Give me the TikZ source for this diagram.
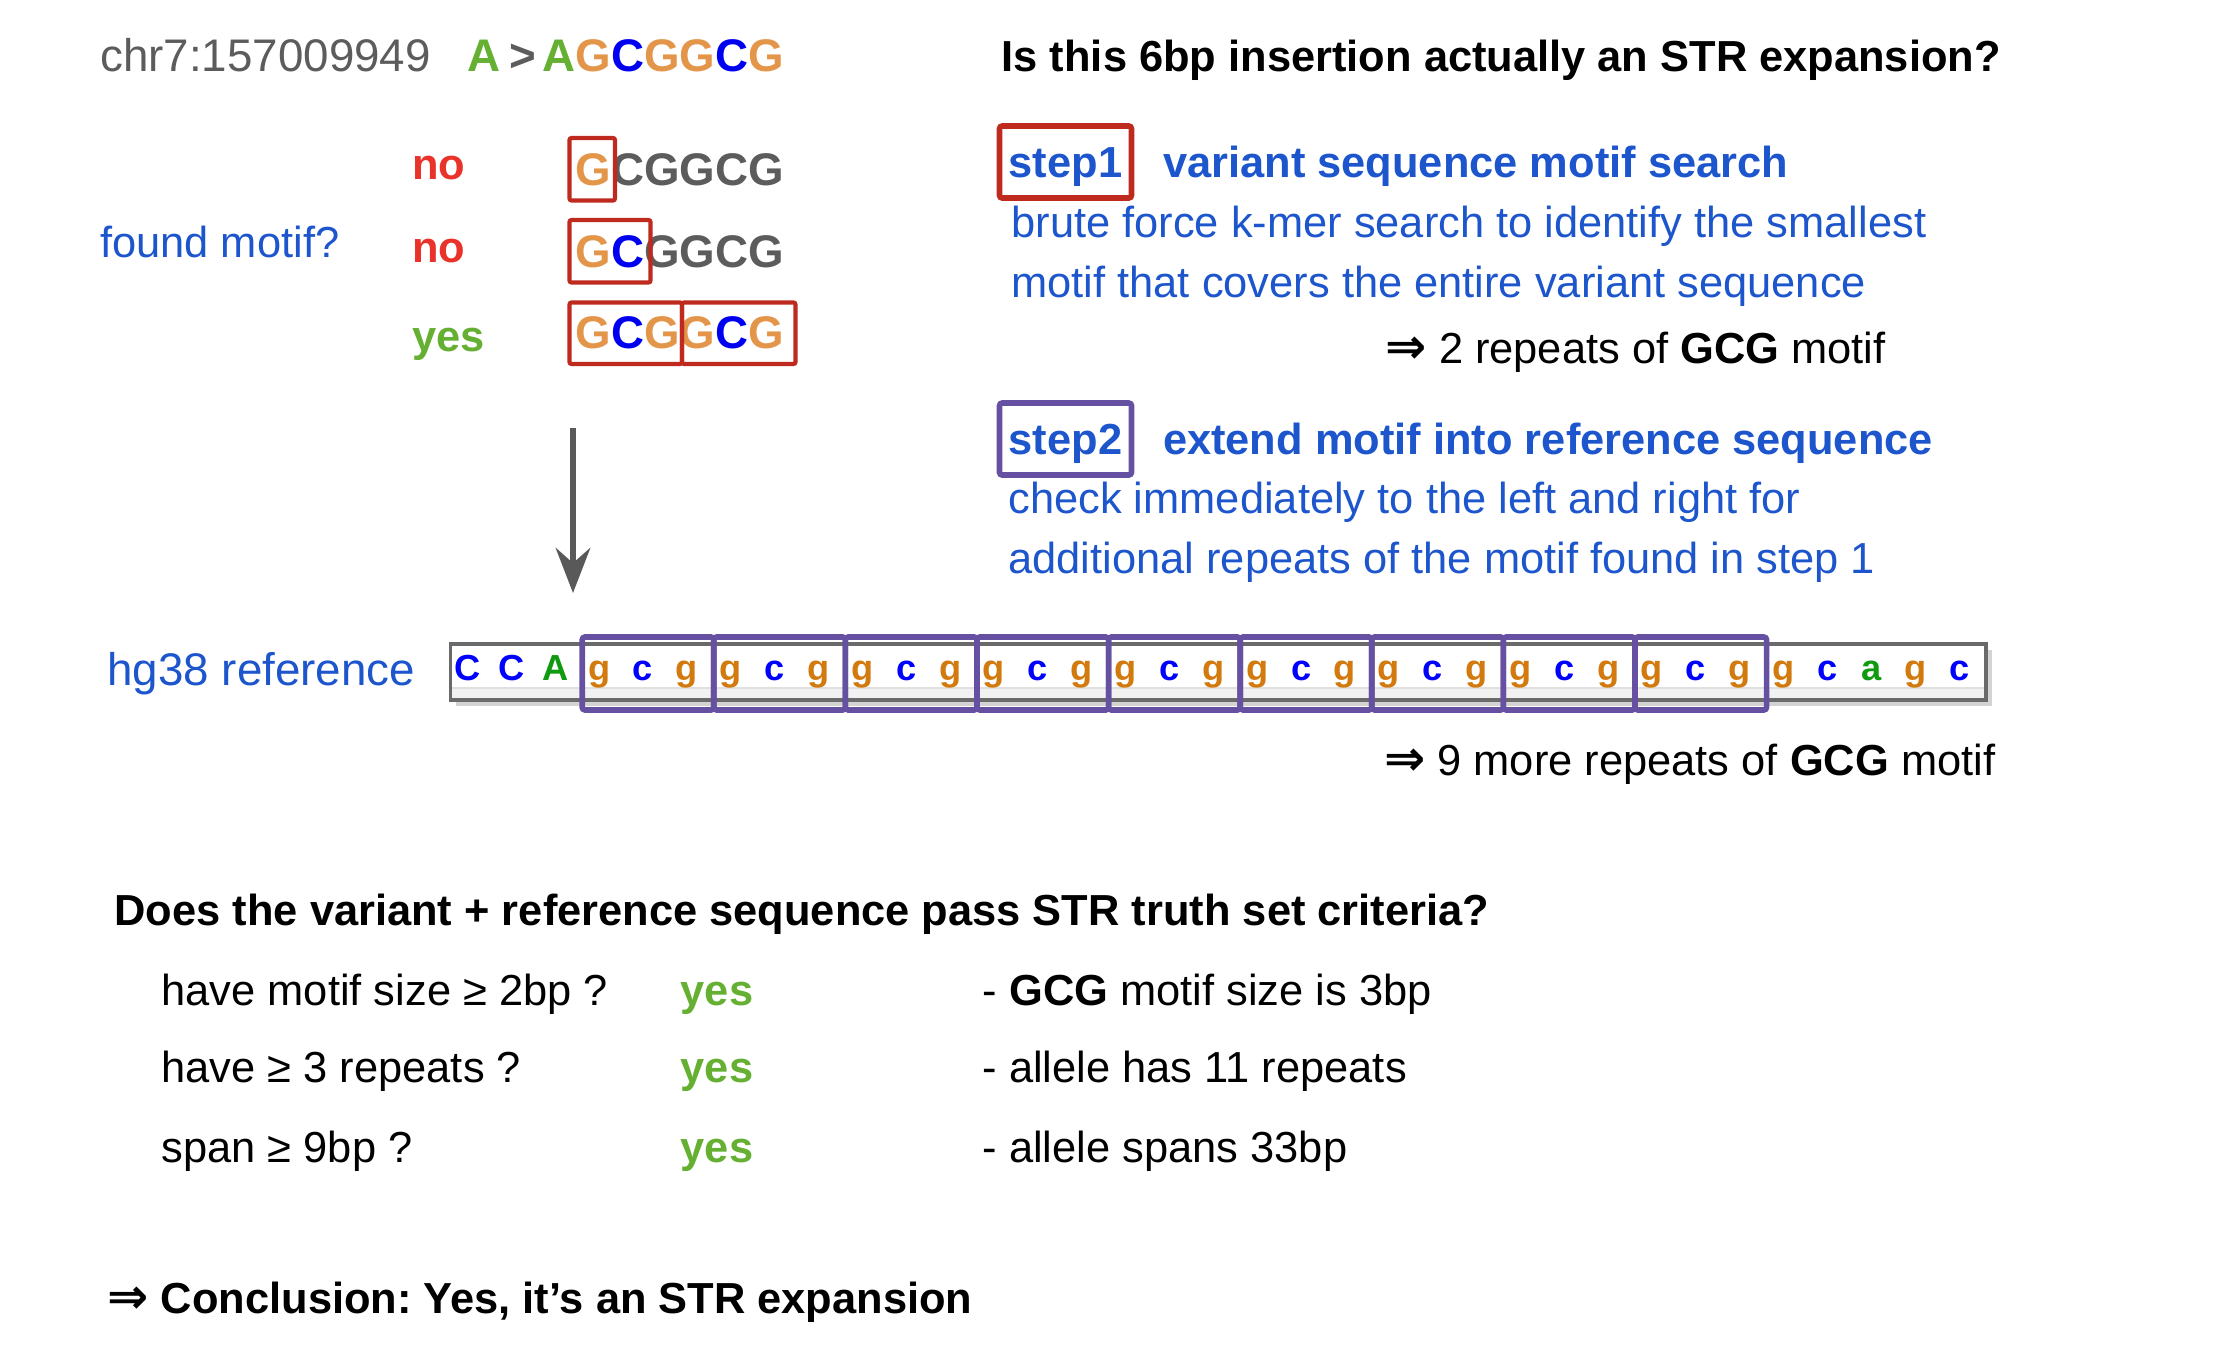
\documentclass[tikz,border=0pt]{standalone}
\usepackage{fontspec}
\setmainfont{Liberation Sans}
\newfontfamily\symfont{DejaVu Sans}
\usepackage{xcolor}
\definecolor{Ink}{HTML}{000000}
\definecolor{NoteBlue}{HTML}{1C55CC}
\definecolor{NoRed}{HTML}{E8322A}
\definecolor{YesGreen}{HTML}{65B032}
\definecolor{SeqOrange}{HTML}{E3964A}
\definecolor{SeqBlue}{HTML}{0000F0}
\definecolor{SeqGray}{HTML}{5C5C5C}
\definecolor{BoxRed}{HTML}{BF2A1F}
\definecolor{RepPurple}{HTML}{6550A2}
\definecolor{RefG}{HTML}{D27A0E}
\definecolor{RefC}{HTML}{0000FF}
\definecolor{RefA}{HTML}{109A10}
\definecolor{RefFrame}{HTML}{6A6A6A}
\definecolor{RefBand}{HTML}{F1F1F1}
\definecolor{ArrowGray}{HTML}{595959}
\usepackage{tikz}
\usetikzlibrary{arrows.meta,positioning,shadows}
\newcommand{\seqG}{\textcolor{SeqOrange}{G}}
\newcommand{\seqC}{\textcolor{SeqBlue}{C}}
\newcommand{\resarrow}{{\fontsize{14}{16}\selectfont\symfont\bfseries ⇒}}
\tikzset{
  txt/.style={anchor=base west,inner sep=0pt,text=Ink,font=\fontsize{12.35}{15}\selectfont},
  boldtxt/.style={txt,font=\fontsize{12.35}{15}\selectfont\bfseries},
  note/.style={txt,text=NoteBlue},
  notehead/.style={boldtxt,text=NoteBlue},
  big/.style={txt,font=\fontsize{13}{16}\selectfont},
  bigbold/.style={txt,font=\fontsize{13}{16}\selectfont\bfseries},
  stepbox/.style={draw,line width=1.6pt,rounded corners=0.8pt,minimum width=1.32cm,
    minimum height=0.72cm,inner sep=0pt,text height=8.6pt,text depth=0pt,text=NoteBlue,
    font=\fontsize{12.35}{15}\selectfont\bfseries},
  motifbox/.style={draw=BoxRed,line width=1.2pt,rounded corners=0.6pt},
  repbox/.style={draw=RepPurple,line width=1.6pt,rounded corners=0.8pt},
  refbase/.style={anchor=base,inner sep=0pt,font=\fontsize{10.3}{12}\selectfont\bfseries},
  arrow/.style={-{Stealth[length=12.8pt,width=9.8pt,inset=4.3pt]},line width=1.8pt,draw=ArrowGray}
}
\begin{document}
\frenchspacing
\begin{tikzpicture}[x=0.01cm,y=-0.01cm]
\useasboundingbox (0,0) rectangle (2232,1372);
% variant
\node[big,text=SeqGray] (locus) at (99.6,71) {chr7:157009949};
\node[bigbold,text=YesGreen] (refA) at (467,71) {A};
\node[bigbold,text=SeqGray] (gt) at (509,71) {>};
\node[bigbold] (alt) at (542,71) {\textcolor{YesGreen}{A}\seqG\seqC\seqG\seqG\seqC\seqG};
\node[boldtxt] (title) at (1001,71) {Is this 6bp insertion actually an STR expansion?};
% motif search on the inserted bases
\node[note] (found) at (99.6,257) {found motif?};
\node[boldtxt,text=NoRed] (no1) at (411.4,179) {no};
\node[boldtxt,text=NoRed] (no2) at (411.4,262) {no};
\node[boldtxt,text=YesGreen] (yes0) at (411.4,351) {yes};
\node[bigbold,text=SeqGray] (row1) at (575,185) {\seqG CGGCG};
\node[bigbold,text=SeqGray] (row2) at (575,267) {\seqG\seqC GGCG};
\node[bigbold] (row3) at (575,348) {\seqG\seqC\seqG\seqG\seqC\seqG};
\draw[motifbox] (569.5,138) rectangle (615,200.5);
\draw[motifbox] (569.5,220) rectangle (650.5,282.5);
\draw[motifbox] (569.5,302.5) rectangle (682,364);
\draw[motifbox] (682,302.5) rectangle (795.5,364);
\coordinate (arrtop) at (573,428);
\coordinate (arrtip) at (573,593);
\draw[arrow] (arrtop) -- (arrtip);
% steps
\node[stepbox,draw=BoxRed] (s1) at (1065.5,162) {step1};
\node[notehead,base right=0.28cm of s1] (s1h) {variant sequence motif search};
\node[note] (s1a) at (1010.7,237) {brute force k-mer search to identify the smallest};
\node[note] (s1b) at (1010.7,297) {motif that covers the entire variant sequence};
\node[txt] (s1r) at (1385,363) {\resarrow\ 2 repeats of \textbf{GCG} motif};
\node[stepbox,draw=RepPurple] (s2) at (1065.5,439) {step2};
\node[notehead,base right=0.28cm of s2] (s2h) {extend motif into reference sequence};
\node[note] (s2a) at (1007.8,513) {check immediately to the left and right for};
\node[note] (s2b) at (1007.8,573) {additional repeats of the motif found in step 1};
% reference track
\node[note,font=\fontsize{13}{16}\selectfont] (hg) at (106.8,685) {hg38 reference};
\path[fill=white,drop shadow={shadow xshift=1.6pt,shadow yshift=-1.6pt,opacity=0.35}]
  (450.6,644) rectangle (1986,700);
\fill[RefBand] (450.6,688) rectangle (1986,700);
\draw[black!12,line width=0.6pt] (450.6,688) -- (1986,688);
\draw[RefFrame,line width=0.9pt] (450.6,644) rectangle (1986,700);
\foreach \b/\col [count=\i from 0] in {C/RefC,C/RefC,A/RefA}
  \node[refbase,text=\col] (r\i) at ({450.6+43.87*(\i+0.5)-5},680) {\b};
\foreach \k in {0,...,8}{
  \foreach \b/\col [count=\j from 0] in {g/RefG,c/RefC,g/RefG}{
    \pgfmathtruncatemacro{\n}{3+3*\k+\j}
    \node[refbase,text=\col] (r\n) at ({450.6+43.87*(\n+0.5)-5},680) {\b};
  }
  \draw[repbox] ({582.2+131.6*\k},637) rectangle ++(131.6,73);
}
\foreach \b/\col [count=\i from 30] in {g/RefG,c/RefC,a/RefA,g/RefG,c/RefC}
  \node[refbase,text=\col] (r\i) at ({450.6+43.87*(\i+0.5)-5},680) {\b};
\node[txt] (s2r) at (1383.6,775) {\resarrow\ 9 more repeats of \textbf{GCG} motif};
% criteria
\node[boldtxt] (crit) at (113.9,925) {Does the variant + reference sequence pass STR truth set criteria?};
\foreach \q/\ans/\yb [count=\i] in {{have motif size ≥ 2bp ?}/{- \textbf{GCG} motif size is 3bp}/1005,
    {have ≥ 3 repeats ?}/{- allele has 11 repeats}/1082,{span ≥ 9bp ?}/{- allele spans 33bp}/1162}{
  \node[txt] (q\i) at (160.9,\yb) {\q};
  \node[boldtxt,text=YesGreen] (ok\i) at (680,\yb) {yes};
  \node[txt] (why\i) at (982,\yb) {\ans};
}
\node[boldtxt] (concl) at (106.8,1313) {\resarrow\ Conclusion: Yes, it’s an STR expansion};
\end{tikzpicture}
\end{document}
